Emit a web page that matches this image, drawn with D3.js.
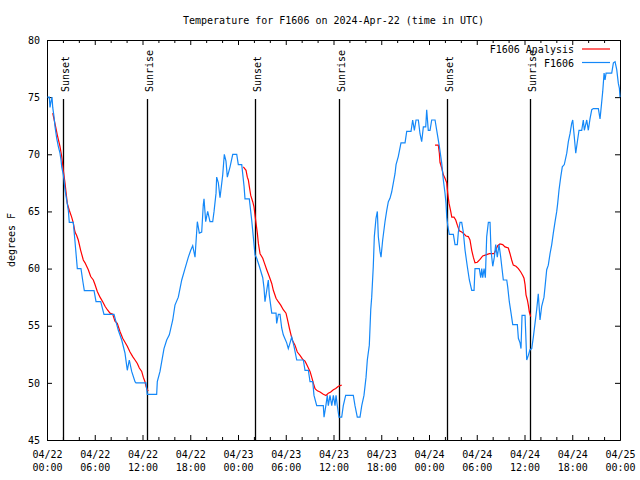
<!DOCTYPE html>
<html>
<head>
<meta charset="utf-8">
<script src="https://cdn.jsdelivr.net/npm/d3@7"></script>
<style>
  html, body { margin: 0; padding: 0; background: #fff; }
  svg { display: block; }
  text { font-family: "DejaVu Sans Mono", "Liberation Mono", monospace; font-size: 10px; fill: #000; }
</style>
</head>
<body>
<svg id="chart" width="640" height="480"></svg>
<script>
// ---------- DATA ----------
const chartTitle = "Temperature for F1606 on 2024-Apr-22 (time in UTC)";
const yLabel = "degrees F";
const seriesNames = ["F1606 Analysis", "F1606"];

// hours after 2024-04-22 00:00 UTC
const xTickDates = ["04/22","04/22","04/22","04/22","04/23","04/23","04/23","04/23","04/24","04/24","04/24","04/24","04/25"];
const xTickTimes = ["00:00","06:00","12:00","18:00","00:00","06:00","12:00","18:00","00:00","06:00","12:00","18:00","00:00"];
const yTicks = [45, 50, 55, 60, 65, 70, 75, 80];

const sunNames = ["Sunset", "Sunrise", "Sunset", "Sunrise", "Sunset", "Sunrise"];
const sunHours = [2.05, 12.62, 26.15, 36.72, 50.3, 60.72];

// Observations (F1606)
const obsHours = [0.04,0.29,0.38,0.50,0.63,0.72,0.88,1.01,1.22,1.42,1.63,1.76,1.85,2.05,2.14,2.26,2.68,2.80,3.30,3.52,3.81,4.27,4.52,4.69,5.91,6.16,6.75,7.16,8.42,8.96,9.39,9.80,10.09,10.34,10.64,11.06,11.18,12.44,12.60,13.78,13.86,14.20,14.70,15.04,15.37,15.80,16.08,16.50,16.93,17.34,17.76,18.06,18.31,18.60,18.89,19.14,19.44,19.64,19.73,19.94,20.19,20.48,20.82,20.99,21.24,21.32,21.53,21.74,22.08,22.28,22.49,22.66,23.00,23.34,23.84,24.04,24.47,24.76,24.88,25.42,25.72,25.92,26.14,26.35,26.68,27.11,27.27,27.39,27.61,27.81,27.93,28.24,28.78,28.86,29.07,29.28,29.49,29.69,30.12,30.32,30.54,30.75,31.04,31.38,32.21,32.42,32.84,33.05,33.39,33.55,33.89,34.72,34.81,35.06,35.22,35.35,35.56,35.78,35.98,36.19,36.32,36.48,36.69,37.03,37.23,37.53,38.49,38.70,38.99,39.33,39.55,39.83,40.09,40.25,40.50,40.68,40.80,41.00,41.13,41.34,41.51,41.63,41.84,41.97,42.18,42.47,42.69,42.89,43.10,43.31,43.52,43.73,43.86,44.14,44.48,44.99,45.20,45.74,45.95,46.16,46.37,46.66,46.87,47.08,47.29,47.59,47.71,47.91,48.13,48.34,48.76,48.97,49.30,49.60,49.80,50.01,50.14,50.23,50.35,50.55,51.06,51.27,51.56,51.69,51.90,52.11,52.31,52.53,52.81,53.07,53.37,53.66,53.78,54.32,54.50,54.63,54.75,54.92,55.08,55.25,55.46,55.67,55.79,56.01,56.21,56.38,56.58,56.80,57.01,57.14,57.34,57.77,57.89,58.09,58.31,58.52,59.10,59.23,59.44,59.56,59.69,60.07,60.28,60.48,60.69,60.91,61.11,61.32,61.53,61.73,61.95,62.16,62.45,62.58,62.79,62.99,63.21,63.42,63.62,63.84,64.05,64.17,64.34,64.55,64.75,65.00,65.31,65.51,65.72,65.93,66.06,66.22,66.44,66.64,66.85,67.19,67.39,67.52,67.82,68.02,68.23,68.45,68.65,69.28,69.49,69.62,69.83,70.00,70.12,70.25,70.96,71.17,71.38,71.59,71.79,71.92,72.00];
const obsTemps = [75.0,75.0,74.1,74.6,75.0,74.1,73.3,72.4,71.4,70.7,70.1,69.5,68.9,68.2,67.75,66.9,65.1,64.05,64.05,62.35,60.0,60.0,58.8,58.07,58.07,57.1,57.1,56.0,56.0,54.6,53.75,52.6,51.1,52.0,51.0,50.1,50.0,50.0,49.0,49.0,50.1,51.0,53.0,53.75,54.2,55.5,56.8,57.5,59.0,60.0,61.0,61.6,62.0,61.0,64.1,63.1,63.2,65.6,66.1,64.1,65.0,64.1,64.1,65.0,66.6,68.0,67.5,66.2,68.2,70.0,69.4,68.0,68.9,70.0,70.0,69.1,69.1,67.2,66.1,66.1,64.25,62.8,61.2,60.9,60.2,59.2,58.3,57.1,58.1,59.0,57.7,56.1,56.1,55.2,56.0,56.0,54.8,54.2,53.5,53.0,53.5,54.0,53.2,52.0,52.0,51.1,51.1,50.1,50.1,48.9,48.0,48.0,47.0,48.1,48.9,48.0,48.9,48.0,48.9,48.0,48.9,48.0,47.0,47.0,48.0,48.9,48.9,48.0,47.0,47.0,48.0,48.9,50.5,52.0,53.3,56.4,57.5,60.2,62.8,64.4,65.0,62.8,61.5,61.0,62.5,64.1,65.1,65.85,66.15,66.7,67.5,68.3,69.1,69.8,71.0,71.0,72.0,72.0,73.0,72.1,73.0,73.0,71.8,71.1,72.4,72.4,73.9,72.1,72.1,73.0,73.0,72.1,70.7,69.2,67.75,66.6,65.7,64.5,63.8,63.0,63.0,62.1,62.1,63.2,64.05,64.05,63.2,61.6,60.2,59.0,58.1,58.1,60.0,60.0,59.2,60.0,59.2,60.0,59.2,62.8,64.05,64.05,61.6,60.2,61.0,62.1,61.0,62.1,61.0,60.2,59.0,59.0,58.4,57.1,56.1,55.1,55.1,53.9,53.5,53.0,55.9,55.9,52.0,52.4,52.9,53.0,54.0,55.2,56.4,57.8,55.5,56.7,57.5,58.4,59.9,60.3,61.3,62.1,63.1,64.1,65.0,65.7,66.9,68.0,68.9,69.1,70.1,71.1,71.8,72.7,73.0,71.8,70.1,71.1,72.1,72.1,73.0,72.1,73.0,72.1,73.1,73.9,74.0,74.0,73.1,74.0,75.5,77.1,76.5,77.1,77.1,78.0,78.1,77.4,76.2,75.8,75.0];

// Analysis (F1606 Analysis) – null separates the three overnight runs
const anaHours = [0.72,1.09,1.29,1.63,1.85,2.05,2.26,2.39,2.55,2.80,3.10,3.30,3.52,3.73,3.93,4.23,4.56,4.78,5.19,5.49,5.82,6.03,6.32,6.66,7.00,7.29,7.58,7.92,8.26,8.54,8.83,9.17,9.51,9.80,10.09,10.43,10.77,11.06,11.35,11.60,11.90,12.10,12.31,12.44,12.60,12.73,
  null,
  24.67,25.01,25.17,25.30,25.42,25.60,25.85,26.01,26.26,26.43,26.56,26.77,27.11,27.31,27.61,27.93,28.24,28.44,28.78,29.06,29.37,29.69,30.03,30.20,30.45,30.62,30.82,31.16,31.45,31.79,32.13,32.42,32.63,32.84,33.05,33.26,33.46,33.68,33.97,34.31,34.72,35.06,35.35,35.65,35.98,36.28,36.61,37.03,
  null,
  48.76,49.17,49.30,49.38,49.60,49.80,50.01,50.23,50.35,50.52,50.73,50.86,51.14,51.36,51.56,51.81,52.11,52.31,52.65,52.94,53.15,53.37,53.57,53.78,54.07,54.41,54.75,55.16,55.58,56.17,56.38,56.63,56.92,57.26,57.55,57.97,58.18,58.39,58.59,58.93,59.23,59.53,59.78,59.94,60.07,60.19,60.36,60.48,60.61,60.78];
const anaTemps = [73.6,72.4,71.7,70.7,69.8,68.6,67.5,66.7,65.7,65.1,64.5,64.0,63.2,62.9,62.5,61.6,60.75,60.5,59.9,59.3,59.0,58.6,58.0,57.5,57.1,56.7,56.4,56.1,56.0,55.4,55.2,54.5,53.9,53.55,53.2,52.7,52.3,52.0,51.7,51.3,51.0,50.5,50.1,49.7,49.4,49.3,
  null,
  68.9,68.6,68.0,67.75,67.2,66.4,65.85,65.4,64.0,63.1,62.2,61.3,60.9,60.5,59.9,59.3,58.7,58.1,57.4,57.1,56.8,56.4,56.1,55.6,54.8,54.3,53.75,53.3,52.7,52.4,52.05,51.9,51.6,51.3,51.0,50.5,50.0,49.5,49.3,49.2,49.0,48.9,49.1,49.2,49.4,49.5,49.7,49.8,
  null,
  70.8,70.8,70.1,69.3,68.8,68.2,67.9,67.5,66.6,65.7,65.0,64.5,64.5,64.25,63.8,63.3,63.2,63.1,62.85,62.8,62.5,61.6,61.0,60.5,60.55,60.8,61.1,61.2,61.3,61.3,61.6,62.0,62.15,62.1,61.9,61.8,61.3,60.75,60.3,60.2,60.0,59.7,59.4,59.15,58.6,57.7,57.25,56.8,56.2,55.8];

const colorAna = "#ff0000";
const colorObs = "#1488f8";

// ---------- LAYOUT ----------
const W = 640, H = 480;
const m = { left: 47, right: 20, top: 40, bottom: 40 };
const svg = d3.select("#chart");
svg.append("rect").attr("width", W).attr("height", H).attr("fill", "#fff");

const x = d3.scaleLinear().domain([0, 72]).range([m.left, W - m.right]);
const y = d3.scaleLinear().domain([45, 80]).range([H - m.bottom, m.top]);

// Title
svg.append("text")
  .attr("x", (x.range()[0] + x.range()[1]) / 2)
  .attr("y", 24)
  .attr("text-anchor", "middle")
  .text(chartTitle);

// Y axis label
svg.append("text")
  .attr("transform", `translate(15,${(m.top + H - m.bottom) / 2}) rotate(-90)`)
  .attr("text-anchor", "middle")
  .text(yLabel);

// Axes
const majorX = d3.range(0, 73, 6);
const minorX = d3.range(0, 73, 2).filter(d => d % 6 !== 0);

const gBottom = svg.append("g").attr("transform", `translate(0,${H - m.bottom})`)
  .call(d3.axisBottom(x).tickValues(majorX).tickSizeInner(-5).tickSizeOuter(0).tickPadding(8).tickFormat(d => String(d)));
gBottom.selectAll(".tick text").each(function(d, i) {
  const t = d3.select(this).attr("y", null).attr("dy", null).text(null);
  t.append("tspan").attr("x", 0).attr("y", 18).text(xTickDates[i]);
  t.append("tspan").attr("x", 0).attr("y", 31).text(xTickTimes[i]);
});
svg.append("g").attr("transform", `translate(0,${H - m.bottom})`)
  .call(d3.axisBottom(x).tickValues(minorX).tickSizeInner(-3).tickSizeOuter(0).tickFormat(""));

svg.append("g").attr("transform", `translate(0,${m.top})`)
  .call(d3.axisTop(x).tickValues(majorX).tickSizeInner(-5).tickSizeOuter(0).tickFormat(""));
svg.append("g").attr("transform", `translate(0,${m.top})`)
  .call(d3.axisTop(x).tickValues(minorX).tickSizeInner(-3).tickSizeOuter(0).tickFormat(""));

svg.append("g").attr("transform", `translate(${m.left},0)`)
  .call(d3.axisLeft(y).tickValues(yTicks).tickSizeInner(-5).tickSizeOuter(0).tickPadding(7).tickFormat(d3.format("d")));
svg.append("g").attr("transform", `translate(${W - m.right},0)`)
  .call(d3.axisRight(y).tickValues(yTicks).tickSizeInner(-5).tickSizeOuter(0).tickFormat(""));

svg.selectAll(".domain, .tick line").attr("stroke", "#000");
svg.selectAll(".tick text").attr("font-family", null).attr("font-size", null).attr("fill", "#000");

// Sunrise / sunset markers
const sun = svg.append("g");
sunHours.forEach((h, i) => {
  const px = Math.round(x(h)) + 0.5;
  sun.append("line")
    .attr("x1", px).attr("x2", px)
    .attr("y1", 99).attr("y2", y(45))
    .attr("stroke", "#000").attr("stroke-width", 1.3);
  sun.append("text")
    .attr("transform", `translate(${px + 5},92) rotate(-90)`)
    .attr("text-anchor", "start")
    .text(sunNames[i]);
});

// Lines
const obs = obsHours.map((h, i) => ({ h, t: obsTemps[i] }));
const ana = anaHours.map((h, i) => ({ h, t: anaTemps[i] }));
const line = d3.line().defined(d => d.h !== null && d.t !== null).x(d => x(d.h)).y(d => y(d.t));

svg.append("path").datum(ana).attr("d", line)
  .attr("fill", "none").attr("stroke", colorAna).attr("stroke-width", 1.2).attr("stroke-linejoin", "miter");
svg.append("path").datum(obs).attr("d", line)
  .attr("fill", "none").attr("stroke", colorObs).attr("stroke-width", 1.2).attr("stroke-linejoin", "miter");

// Legend
const legend = svg.append("g");
[colorAna, colorObs].forEach((c, i) => {
  const ly = 49 + i * 13.5;
  legend.append("text").attr("x", 574).attr("y", ly + 4).attr("text-anchor", "end").text(seriesNames[i]);
  legend.append("line").attr("x1", 582).attr("x2", 610).attr("y1", ly).attr("y2", ly)
    .attr("stroke", c).attr("stroke-width", 1.2);
});
</script>
</body>
</html>
